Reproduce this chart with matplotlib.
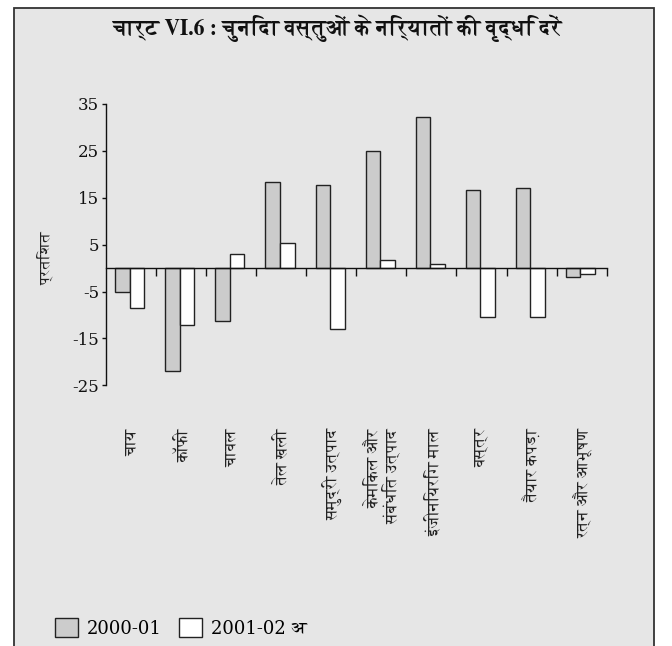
import matplotlib
matplotlib.use("Agg")
import matplotlib.pyplot as plt
from matplotlib.patches import Rectangle, Patch
import numpy as np

categories = ["चाय", "कॉफी", "चावल", "तेल खली", "समुद्री उत्पाद",
              "केमिकल और\nसंबंधित उत्पाद", "इंजीनियरिंग माल", "वस्त्र",
              "तैयार कपड़ा", "रत्न और आभूषण"]
series_2000 = [-5.0, -22.0, -11.2, 18.4, 17.8, 25.0, 32.2, 16.6, 17.0, -1.8]
series_2001 = [-8.5, -12.1, 3.1, 5.3, -13.0, 1.7, 0.9, -10.4, -10.4, -1.3]
legend_labels = ["2000-01", "2001-02 अ"]
yticks = [-25, -15, -5, 5, 15, 25, 35]
title = "चार्ट VI.6 : चुनिंदा वस्तुओं के निर्यातों की वृद्धि दरें"
ylabel = "प्रतिशत"

W, H = 672, 646
fig = plt.figure(figsize=(W / 100, H / 100), dpi=100)
fig.patch.set_facecolor("white")

# outer panel
panel = Rectangle((14 / W, -0.01), (654 - 14) / W, (H - 8) / H + 0.01,
                  transform=fig.transFigure, facecolor="#e6e6e6",
                  edgecolor="#333333", linewidth=1.3, zorder=-10)
fig.patches.append(panel)

left, right = 106 / W, 606.7 / W
bottom, top = 1 - 385.3 / H, 1 - 104 / H
ax = fig.add_axes([left, bottom, right - left, top - bottom])
ax.set_facecolor("none")
ax.set_zorder(1)

x = np.arange(len(categories))
bw = 0.29
ax.bar(x - 0.315, series_2000, width=bw, align="edge", color="#cccccc",
       edgecolor="#222222", linewidth=1.0, zorder=2)
ax.bar(x - 0.025, series_2001, width=bw, align="edge", color="white",
       edgecolor="#222222", linewidth=1.0, zorder=2)

ax.set_xlim(-0.5, len(categories) - 0.5)
ax.set_ylim(-25, 35)
ax.spines["top"].set_visible(False)
ax.spines["right"].set_visible(False)
ax.spines["bottom"].set_position(("data", 0))
for s in ("left", "bottom"):
    ax.spines[s].set_color("#111111")
    ax.spines[s].set_linewidth(1.0)
ax.spines["bottom"].set_zorder(3)

ax.set_yticks(yticks)
ax.set_yticklabels([str(v) for v in yticks], family="DejaVu Serif", fontsize=12)
ax.tick_params(axis="y", direction="out", length=3, width=1, pad=2, colors="#111111")
ax.set_xticks(np.arange(len(categories)) + 0.5)
ax.set_xticklabels([])
ax.tick_params(axis="x", direction="out", length=6, width=1, colors="#111111")

for xi, lab in zip(x, categories):
    ax.text(xi + 0.03, -0.152, lab, transform=ax.get_xaxis_transform(),
            rotation=90, ha="center", va="top", multialignment="right",
            family="FreeSerif", fontsize=11.5, color="#222222", linespacing=1.1)

fig.text(45 / W, 1 - 258 / H, ylabel, rotation=90, ha="center", va="center",
         family="FreeSerif", fontsize=11, color="#222222")

fig.text(338 / W, 1 - 28 / H, title, ha="center", va="center",
         family="FreeSerif", fontweight="bold", fontsize=15.5, color="#111111")

handles = [Patch(facecolor="#cccccc", edgecolor="#222222", linewidth=1.0),
           Patch(facecolor="white", edgecolor="#222222", linewidth=1.0)]
leg = fig.legend(handles, legend_labels, loc="center left",
                 bbox_to_anchor=(55 / W, 1 - 628 / H), ncol=2, frameon=False,
                 handlelength=1.28, handleheight=1.17, handletextpad=0.5,
                 columnspacing=0.95, borderaxespad=0, borderpad=0,
                 prop={"family": ["DejaVu Serif", "FreeSerif"], "size": 13})

fig.savefig("out.png", dpi=100, facecolor="white")
